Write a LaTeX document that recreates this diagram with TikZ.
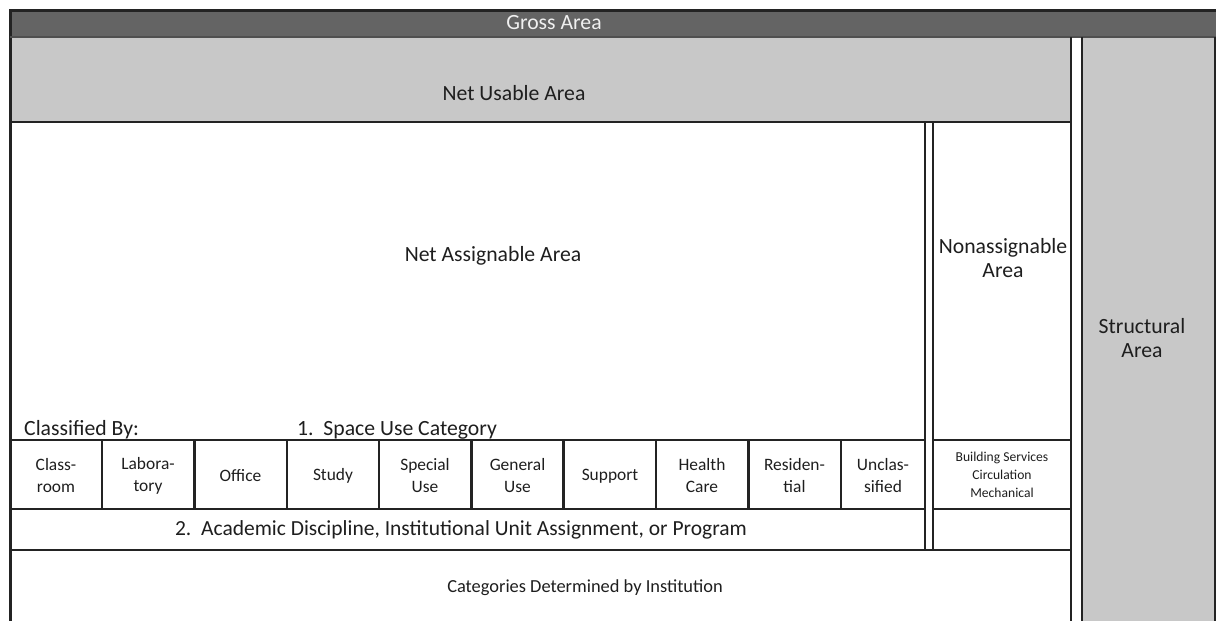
\documentclass[tikz,border=0pt]{standalone}
\usepackage{fontspec}
\setmainfont{Carlito}
\definecolor{lc}{HTML}{232323}
\definecolor{dg}{HTML}{646464}
\definecolor{lg}{HTML}{C8C8C8}
\definecolor{tc}{HTML}{1E1E1E}
\begin{document}
\begin{tikzpicture}[x=1pt,y=-1pt,
  ln/.style={draw=lc,line width=2.2pt},
  frame/.style={draw=lc,line width=3pt},
  big/.style={inner sep=0pt,text=tc,font=\fontsize{21.7}{24}\selectfont},
  cell/.style={inner sep=0pt,text=tc,align=center,font=\fontsize{17.4}{22}\selectfont},
  small/.style={inner sep=0pt,text=tc,align=center,font=\fontsize{13.6}{18}\selectfont}]
\useasboundingbox (0,0) rectangle (1216,621);
\begin{scope}
\clip (0,0) rectangle (1216,621);
% fills
\fill[dg] (10,10) rectangle (1216,37);
\fill[lg] (10,37) rectangle (1071,122);
\fill[lg] (1082,37) rectangle (1215,640);
% frame
\draw[frame] (10,640) -- (10,10) -- (1216,10);
\draw[ln,draw=lc!80!white] (10,37) -- (1216,37);
\draw[ln] (1071,37) -- (1071,640);
\draw[ln] (1082,37) -- (1082,640);
\draw[ln] (1215,37) -- (1215,640);
\draw[ln] (10,122) -- (1071,122);
% double line
\draw[ln] (925,122) -- (925,550);
\draw[ln] (933,122) -- (933,550);
% rows
\draw[ln] (10,440) -- (925,440);
\draw[ln] (933,440) -- (1071,440);
\draw[ln] (10,509) -- (925,509);
\draw[ln] (933,509) -- (1071,509);
\draw[ln] (10,550) -- (1071,550);
% cell separators
\foreach \x in {102,194.5,287,379,471.5,563.5,656,748.5,841}
  \draw[ln] (\x,440) -- (\x,509);
\end{scope}
% labels
\node[big,text=white!94!black] (gross) at (554,23) {Gross Area};
\node[big] (netusable) at (514,93) {Net Usable Area};
\node[big] (netassign) at (493,256) {Net Assignable Area};
\node[big,align=center] (nonassign) at (1003,258) {Nonassignable\\Area};
\node[big,align=center] (structural) at (1142,338) {Structural\\Area};
\node[big,anchor=base west] (classified) at (24,435) {Classified By:};
\node[big,anchor=base west] (spaceuse) at (297,435) {1.~~Space Use Category};
\node[cell] (c1) at (56,476) {Class-\\room};
\node[cell] (c2) at (148,476) {Labora-\\tory};
\node[cell] (c3) at (240.5,476) {Office};
\node[cell] (c4) at (333,476) {Study};
\node[cell] (c5) at (425,476) {Special\\Use};
\node[cell] (c6) at (517.5,476) {General\\Use};
\node[cell] (c7) at (610,476) {Support};
\node[cell] (c8) at (702,476) {Health\\Care};
\node[cell] (c9) at (794.5,476) {Residen-\\tial};
\node[cell] (c10) at (883,476) {Unclas-\\sified};
\node[small] (services) at (1002,475) {Building Services\\Circulation\\Mechanical};
\node[big,font=\fontsize{21.5}{24}\selectfont] (academic) at (461,530) {2.~~Academic Discipline, Institutional Unit Assignment, or Program};
\node[cell,font=\fontsize{18.4}{22}\selectfont] (inst) at (585,588) {Categories Determined by Institution};
\end{tikzpicture}
\end{document}
